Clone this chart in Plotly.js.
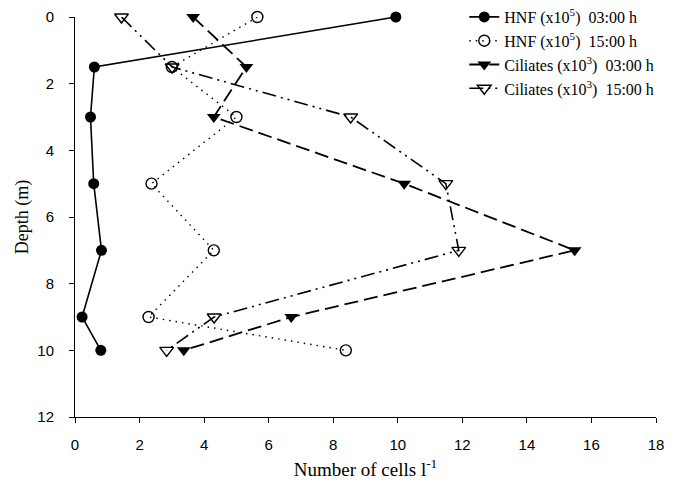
<!DOCTYPE html>
<html>
<head>
<meta charset="utf-8">
<script src="https://cdn.plot.ly/plotly-3.0.1.min.js"></script>
<style>html,body{margin:0;padding:0;background:#fff;}#chart{width:678px;height:487px;}</style>
</head>
<body>
<div id="chart"></div>
<script>
// Depths (m)
const depth = [0, 1.5, 3, 5, 7, 9, 10];
// Values (number of cells per litre, scaled)
const hnf0300 = [9.94, 0.6, 0.48, 0.58, 0.82, 0.22, 0.8];
const hnf1500 = [5.65, 3.0, 5.0, 2.37, 4.3, 2.28, 8.39];
const cil0300 = [3.66, 5.31, 4.3, 10.2, 15.48, 6.7, 3.37];
const cil1500 = [1.44, 3.01, 8.54, 11.49, 11.89, 4.31, 2.84];
const seriesNames = [
  'HNF (x10<sup>5</sup>)  03:00 h',
  'HNF (x10<sup>5</sup>)  15:00 h',
  'Ciliates (x10<sup>3</sup>)  03:00 h',
  'Ciliates (x10<sup>3</sup>)  15:00 h'
];
const xTicks = [0, 2, 4, 6, 8, 10, 12, 14, 16, 18];
const yTicks = [0, 2, 4, 6, 8, 10, 12];

const traces = [
  {x: hnf0300, y: depth, name: seriesNames[0], mode: 'lines+markers',
   line: {color: '#000', width: 1.6, dash: 'solid'},
   marker: {symbol: 'circle', size: 11, color: '#000'}},
  {x: hnf1500, y: depth, name: seriesNames[1], mode: 'lines+markers',
   line: {color: '#000', width: 1.4, dash: '1.5px,5px'},
   marker: {symbol: 'circle-open', size: 11, color: '#000', line: {width: 1.4}}},
  {x: cil0300, y: depth, name: seriesNames[2], mode: 'lines+markers',
   line: {color: '#000', width: 1.8, dash: '14px,6px'},
   marker: {symbol: 'triangle-down', size: 12, color: '#000'}},
  {x: cil1500, y: depth, name: seriesNames[3], mode: 'lines+markers',
   line: {color: '#000', width: 1.6, dash: '14px,5px,2px,5px,2px,5px'},
   marker: {symbol: 'triangle-down-open', size: 12, color: '#000', line: {width: 1.4}}}
];
traces.forEach(t => { t.cliponaxis = false; });

const layout = {
  width: 678, height: 487,
  margin: {l: 75, r: 22, t: 17, b: 70, autoexpand: false},
  paper_bgcolor: '#fff', plot_bgcolor: '#fff',
  showlegend: true,
  legend: {x: 0.67, y: 1.0425, xanchor: 'left', yanchor: 'top',
           font: {family: 'Liberation Serif, Times New Roman, serif', size: 16, color: '#000'},
           bgcolor: 'rgba(0,0,0,0)', tracegroupgap: 0},
  xaxis: {range: [0, 18], tickvals: xTicks, ticktext: xTicks.map(String),
          showgrid: false, zeroline: false, showline: true, linecolor: '#000', linewidth: 1,
          ticks: 'outside', ticklen: 5, tickcolor: '#000', ticklabelstandoff: 9,
          tickfont: {family: 'Liberation Sans, Arial, sans-serif', size: 15, color: '#000'},
          title: {text: 'Number of cells l<sup>-1</sup>', standoff: 10,
                  font: {family: 'Liberation Serif, Times New Roman, serif', size: 19, color: '#000'}}},
  yaxis: {range: [12, 0], tickvals: yTicks, ticktext: yTicks.map(String),
          showgrid: false, zeroline: false, showline: true, linecolor: '#000', linewidth: 1,
          ticks: 'outside', ticklen: 5, tickcolor: '#000', ticklabelstandoff: 12,
          tickfont: {family: 'Liberation Sans, Arial, sans-serif', size: 15, color: '#000'},
          title: {text: 'Depth (m)', standoff: 4,
                  font: {family: 'Liberation Serif, Times New Roman, serif', size: 18, color: '#000'}}}
};

Plotly.newPlot('chart', traces, layout, {displayModeBar: false, staticPlot: true});
</script>
</body>
</html>
